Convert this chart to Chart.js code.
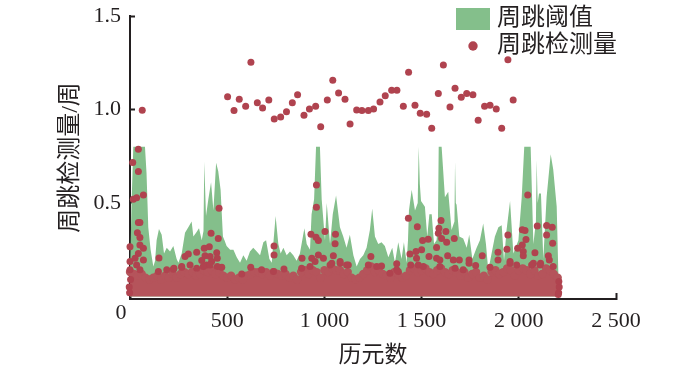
<!DOCTYPE html>
<html>
<head>
<meta charset="utf-8">
<style>
  html, body { margin: 0; padding: 0; background: #fff; }
  canvas { display: block; }
</style>
<script src="https://cdn.jsdelivr.net/npm/chart.js@4/dist/chart.umd.min.js"></script>
</head>
<body>
<canvas id="myChart" width="700" height="370"></canvas>
<script>
const xTicks = [0, 500, 1000, 1500, 2000, 2500];
const xTickLabels = ['', '500', '1 000', '1 500', '2 000', '2 500'];
const yTicks = [0.5, 1, 1.5];
const yTickLabels = ['0.5', '1.0', '1.5'];

// threshold outline (clipped at 0.8 in the original)
const thrEpochs = [0, 8, 17, 77, 85, 94, 106, 120, 129, 137, 149, 163, 175, 189, 206, 223, 240, 249, 266, 283, 300, 317, 326, 340, 355, 369, 378, 382, 391, 403, 417, 429, 443, 454, 466, 478, 486, 497, 515, 532, 549, 566, 583, 600, 617, 634, 652, 669, 686, 700, 717, 729, 749, 763, 775, 789, 806, 823, 840, 857, 874, 897, 909, 926, 934, 947, 957, 977, 986, 1003, 1012, 1029, 1043, 1060, 1080, 1097, 1114, 1131, 1149, 1166, 1183, 1200, 1217, 1234, 1246, 1260, 1277, 1294, 1311, 1329, 1349, 1363, 1380, 1397, 1409, 1423, 1430, 1435, 1449, 1466, 1480, 1485, 1491, 1497, 1517, 1529, 1540, 1552, 1564, 1577, 1584, 1588, 1603, 1620, 1637, 1654, 1669, 1672, 1676, 1680, 1694, 1714, 1732, 1745, 1761, 1783, 1800, 1817, 1831, 1843, 1860, 1877, 1895, 1912, 1924, 1937, 1955, 1972, 1998, 2015, 2028, 2061, 2075, 2088, 2092, 2097, 2104, 2114, 2126, 2143, 2164, 2177, 2195, 2203, 2210];
const thrValues = [0.12, 0.5, 0.8, 0.8, 0.66, 0.37, 0.25, 0.16, 0.19, 0.3, 0.36, 0.33, 0.23, 0.26, 0.24, 0.27, 0.2, 0.18, 0.23, 0.34, 0.37, 0.4, 0.32, 0.34, 0.365, 0.3, 0.35, 0.72, 0.43, 0.52, 0.61, 0.46, 0.715, 0.67, 0.57, 0.32, 0.3, 0.27, 0.25, 0.25, 0.21, 0.18, 0.22, 0.19, 0.24, 0.26, 0.24, 0.22, 0.29, 0.3, 0.2, 0.18, 0.43, 0.28, 0.23, 0.26, 0.22, 0.24, 0.22, 0.19, 0.23, 0.365, 0.28, 0.25, 0.44, 0.52, 0.8, 0.8, 0.52, 0.3, 0.5, 0.28, 0.44, 0.54, 0.37, 0.32, 0.26, 0.33, 0.22, 0.16, 0.2, 0.22, 0.26, 0.355, 0.47, 0.32, 0.28, 0.29, 0.27, 0.21, 0.26, 0.18, 0.29, 0.2, 0.29, 0.18, 0.3, 0.46, 0.57, 0.46, 0.5, 0.8, 0.6, 0.51, 0.48, 0.32, 0.44, 0.44, 0.28, 0.3, 0.4, 0.8, 0.8, 0.53, 0.56, 0.355, 0.4, 0.72, 0.5, 0.49, 0.32, 0.31, 0.26, 0.33, 0.2, 0.26, 0.3, 0.39, 0.28, 0.14, 0.23, 0.32, 0.37, 0.38, 0.19, 0.355, 0.51, 0.23, 0.3, 0.53, 0.8, 0.8, 0.28, 0.4, 0.73, 0.5, 0.55, 0.55, 0.2, 0.53, 0.76, 0.68, 0.48, 0.14, 0];

// solid band of detections near zero, top edge every 20 epochs
const bandEpochs = [0, 20, 40, 60, 80, 100, 120, 140, 160, 180, 200, 220, 240, 260, 280, 300, 320, 340, 360, 380, 400, 420, 440, 460, 480, 500, 520, 540, 560, 580, 600, 620, 640, 660, 680, 700, 720, 740, 760, 780, 800, 820, 840, 860, 880, 900, 920, 940, 960, 980, 1000, 1020, 1040, 1060, 1080, 1100, 1120, 1140, 1160, 1180, 1200, 1220, 1240, 1260, 1280, 1300, 1320, 1340, 1360, 1380, 1400, 1420, 1440, 1460, 1480, 1500, 1520, 1540, 1560, 1580, 1600, 1620, 1640, 1660, 1680, 1700, 1720, 1740, 1760, 1780, 1800, 1820, 1840, 1860, 1880, 1900, 1920, 1940, 1960, 1980, 2000, 2020, 2040, 2060, 2080, 2100, 2120, 2140, 2160, 2180, 2200];
const bandTop = [0.13, 0.12, 0.11, 0.12, 0.1, 0.09, 0.1, 0.11, 0.09, 0.11, 0.1, 0.12, 0.1, 0.12, 0.13, 0.12, 0.13, 0.11, 0.12, 0.14, 0.13, 0.14, 0.12, 0.13, 0.11, 0.1, 0.11, 0.09, 0.1, 0.09, 0.11, 0.12, 0.13, 0.13, 0.12, 0.13, 0.11, 0.13, 0.12, 0.11, 0.12, 0.1, 0.11, 0.09, 0.13, 0.14, 0.12, 0.14, 0.13, 0.1, 0.14, 0.13, 0.15, 0.14, 0.14, 0.12, 0.13, 0.1, 0.09, 0.1, 0.12, 0.14, 0.16, 0.13, 0.14, 0.12, 0.11, 0.1, 0.13, 0.12, 0.1, 0.11, 0.14, 0.15, 0.13, 0.14, 0.15, 0.13, 0.12, 0.14, 0.15, 0.13, 0.12, 0.14, 0.13, 0.11, 0.13, 0.1, 0.12, 0.13, 0.1, 0.11, 0.09, 0.13, 0.14, 0.12, 0.13, 0.15, 0.14, 0.11, 0.14, 0.15, 0.14, 0.12, 0.14, 0.11, 0.12, 0.15, 0.14, 0.12, 0.1];

// individual detections standing clear of the band
const detEpochs = [63, 502, 535, 562, 595, 622, 655, 682, 714, 742, 775, 805, 835, 862, 895, 923, 955, 981, 1015, 1043, 1073, 1106, 1132, 1166, 1193, 1226, 1253, 1286, 1313, 1346, 1373, 1406, 1433, 1466, 1493, 1526, 1552, 1586, 1612, 1646, 1672, 1704, 1732, 1764, 1791, 1824, 1852, 1884, 1912, 1944, 1971,
  43, 14, 43, 69, 17, 34, 43, 51, 38, 51, 0, 51, 69, 43, 0, 69, 26, 34, 0, 51,
  149, 283, 300, 343, 266, 309, 226, 343, 458, 417, 454, 382, 408, 446, 386, 412, 449, 369, 420, 394, 472, 449, 621, 741, 741, 792, 931, 957, 969, 959, 959, 1003, 1057, 1055, 885, 935, 969, 995, 1046, 1038, 1081, 952, 926,
  1239, 1294, 1372, 1432, 1478, 1505, 1534, 1440, 1471, 1500, 1474, 1538, 1600, 1589, 1586, 1625, 1668, 1603, 1629, 1577, 1634, 1577, 1594, 1663, 1694, 1744, 1744, 1812, 1778, 1893, 1893, 1939, 1944, 2046, 2018, 2032, 2095, 2037, 2018, 1994, 2023, 2023, 2083, 2143, 2172, 2143, 2174, 2152, 1955, 2075, 2112, 2157, 1444, 1372,
  189, 146, 223, 266, 377, 412, 575, 677, 738, 883, 1029, 1081, 1123, 1114, 1226, 1269, 1337, 1380, 1483, 1509, 1594, 1672, 1714, 1852, 1955, 1989, 2066, 2109, 2177,
  2205, 2208, 2206, 2203, -4, -2, 3];
const detValues = [0.996, 1.068, 0.994, 1.054, 1.017, 1.252, 1.036, 1.008, 1.051, 0.949, 0.96, 0.988, 1.036, 1.079, 0.969, 1.003, 1.017, 0.908, 1.051, 1.156, 1.088, 1.054, 0.922, 0.997, 0.994, 0.994, 1.003, 1.04, 1.074, 1.103, 1.103, 1.017, 1.199, 1.022, 0.98, 0.974, 0.899, 1.085, 1.238, 1.013, 1.113, 1.065, 1.085, 1.079, 0.942, 1.017, 1.022, 1.003, 0.899, 1.266, 1.051,
  0.787, 0.716, 0.668, 0.543, 0.52, 0.528, 0.395, 0.395, 0.341, 0.315, 0.265, 0.275, 0.258, 0.23, 0.186, 0.195, 0.204, 0.168, 0.142, 0.142,
  0.206, 0.213, 0.227, 0.236, 0.16, 0.168, 0.15, 0.15, 0.471, 0.338, 0.309, 0.258, 0.266, 0.234, 0.217, 0.213, 0.204, 0.192, 0.186, 0.168, 0.156, 0.16, 0.156, 0.27, 0.222, 0.147, 0.332, 0.316, 0.299, 0.596, 0.477, 0.347, 0.332, 0.281, 0.204, 0.204, 0.222, 0.204, 0.217, 0.177, 0.186, 0.186, 0.16,
  0.213, 0.163, 0.174, 0.418, 0.372, 0.299, 0.306, 0.227, 0.24, 0.249, 0.204, 0.213, 0.406, 0.365, 0.338, 0.347, 0.309, 0.309, 0.29, 0.261, 0.217, 0.204, 0.195, 0.195, 0.195, 0.195, 0.177, 0.217, 0.165, 0.236, 0.195, 0.252, 0.329, 0.543, 0.356, 0.352, 0.377, 0.304, 0.275, 0.258, 0.24, 0.217, 0.234, 0.379, 0.37, 0.329, 0.284, 0.217, 0.186, 0.177, 0.177, 0.195, 0.168, 0.142,
  0.142, 0.133, 0.145, 0.156, 0.16, 0.168, 0.12, 0.142, 0.133, 0.15, 0.168, 0.177, 0.168, 0.168, 0.168, 0.16, 0.124, 0.133, 0.168, 0.16, 0.16, 0.15, 0.142, 0.156, 0.177, 0.168, 0.168, 0.168, 0.16,
  0.02, 0.05, 0.08, 0.01, 0.05, 0.02, 0.09];

const FONT = '"Liberation Serif", "Noto Sans CJK SC", serif';
const INK = '#231f20';
const GREEN = '#84bf8b';
const RED = '#b0434f';
const BAND = '#b5545b';

function zip(xs, ys) {
  return xs.map((x, i) => ({ x: x, y: ys[i] }));
}

// legend marks: wide green swatch and a round red dot
function swatch(w, h, draw) {
  const c = document.createElement('canvas');
  c.width = w;
  c.height = h;
  draw(c.getContext('2d'));
  return c;
}
const greenMark = swatch(39, 22, g => { g.fillStyle = GREEN; g.fillRect(5, 0, 34, 22); });
const redMark = swatch(15, 10, g => { g.fillStyle = RED; g.beginPath(); g.arc(10, 5, 4.7, 0, Math.PI * 2); g.fill(); });

const extras = {
  id: 'extras',
  afterLayout(chart) {
    // put the legend in the top right, over the plot
    const lg = chart.legend;
    lg.left = 453;
    lg.right = 700;
    lg.top = 4;
  },
  afterDraw(chart) {
    // the origin label sits on its own, above the x tick labels
    const ctx = chart.ctx;
    ctx.save();
    ctx.font = '22px ' + FONT;
    ctx.fillStyle = INK;
    ctx.textAlign = 'center';
    ctx.textBaseline = 'middle';
    ctx.fillText('0', 121, 313);
    ctx.restore();
  }
};

var ctx = document.getElementById('myChart').getContext('2d');
var myChart = new Chart(ctx, {
  data: {
    datasets: [{
      type: 'line',
      label: '周跳阈值',
      data: zip(thrEpochs, thrValues),
      backgroundColor: GREEN,
      borderWidth: 0,
      pointRadius: 0,
      tension: 0,
      fill: 'origin',
      order: 3
    }, {
      type: 'scatter',
      label: '周跳检测量',
      data: zip(detEpochs, detValues),
      backgroundColor: RED,
      borderWidth: 0,
      pointRadius: 3.5,
      clip: false,
      order: 1
    }, {
      type: 'line',
      label: 'band',
      data: zip(bandEpochs, bandTop),
      backgroundColor: BAND,
      borderColor: BAND,
      borderWidth: 0,
      pointBackgroundColor: BAND,
      pointRadius: 4.2,
      tension: 0,
      fill: 'origin',
      clip: false,
      order: 2
    }]
  },
  options: {
    responsive: false,
    animation: false,
    layout: { padding: { top: 16, right: 84, left: 0, bottom: 0 } },
    plugins: {
      tooltip: { enabled: false },
      legend: {
        position: 'chartArea',
        align: 'start',
        labels: {
          color: INK,
          font: { family: FONT, size: 24 },
          usePointStyle: true,
          pointStyleWidth: 29,
          padding: 3,
          generateLabels(chart) {
            return [
              { text: '周跳阈值', pointStyle: greenMark, datasetIndex: 0, fontColor: INK, lineWidth: 0 },
              { text: '周跳检测量', pointStyle: redMark, datasetIndex: 1, fontColor: INK, lineWidth: 0 }
            ];
          }
        }
      }
    },
    scales: {
      x: {
        type: 'linear',
        min: 0,
        max: 2500,
        z: 1,
        afterFit(scale) { scale.height = 71; scale.paddingLeft = 0; scale.paddingRight = 0; },
        afterBuildTicks(scale) { scale.ticks = xTicks.map(v => ({ value: v })); },
        border: { color: INK, width: 2 },
        grid: { drawOnChartArea: false, tickLength: -6, tickWidth: 2, tickColor: INK },
        ticks: {
          color: INK,
          font: { family: FONT, size: 22 },
          padding: 15,
          maxRotation: 0,
          autoSkip: false,
          callback: (v, i) => xTickLabels[i]
        },
        title: {
          display: true,
          text: '历元数',
          color: INK,
          font: { family: FONT, size: 23 },
          padding: { top: 0, bottom: 0 }
        }
      },
      y: {
        type: 'linear',
        min: -0.014,
        max: 1.5,
        z: 1,
        afterFit(scale) { scale.width = 130; scale.paddingTop = 0; scale.paddingBottom = 0; },
        afterBuildTicks(scale) { scale.ticks = yTicks.map(v => ({ value: v })); },
        border: { color: INK, width: 2 },
        grid: { drawOnChartArea: false, tickLength: -5, tickWidth: 2, tickColor: INK },
        ticks: {
          color: INK,
          font: { family: FONT, size: 22 },
          padding: 14,
          autoSkip: false,
          callback: (v, i) => yTickLabels[i]
        },
        title: {
          display: true,
          text: '周跳检测量/周',
          color: INK,
          font: { family: FONT, size: 24 },
          padding: { top: 56, bottom: 0 }
        }
      }
    }
  },
  plugins: [extras]
});
</script>
</body>
</html>
